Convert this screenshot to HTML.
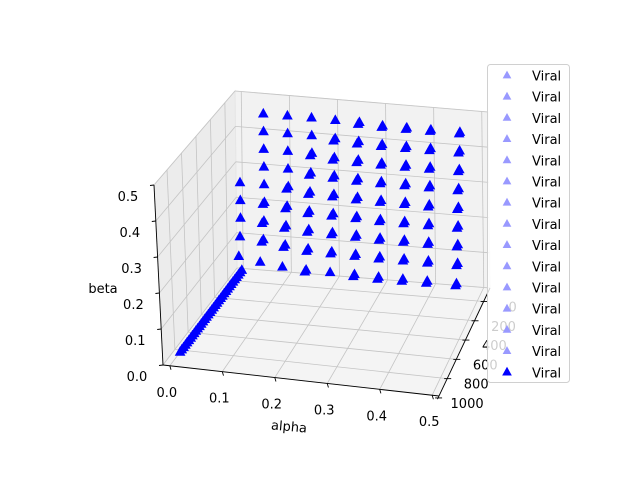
<!DOCTYPE html>
<html><head><meta charset="utf-8"><style>
html,body{margin:0;padding:0;background:#fff}
svg{display:block;font-family:"DejaVu Sans","Liberation Sans",sans-serif}
</style></head><body>
<svg id="chart" width="640" height="480" viewBox="0 0 640 480" xmlns="http://www.w3.org/2000/svg">
<g id="panes"></g>
<g id="grid"></g>
<g id="axes"></g>
<g id="marks"></g>
<g id="legend"></g>
</svg>
<script>
// ---- data ----
const alphaTicks = [0, 0.1, 0.2, 0.3, 0.4, 0.5];
const betaTicks = [0, 0.1, 0.2, 0.3, 0.4, 0.5];
const depthTicks = [0, 200, 400, 600, 800, 1000];
const alphaTickLabels = ["0.0","0.1","0.2","0.3","0.4","0.5"];
const betaTickLabels = ["0.0","0.1","0.2","0.3","0.4","0.5"];
const depthTickLabels = ["0","200","400","600","800","1000"];
const gridAlpha = [0, 0.05, 0.1, 0.15, 0.2, 0.25, 0.3, 0.35, 0.4, 0.46];
const gridBeta = [0.45, 0.4, 0.35, 0.3, 0.25, 0.2, 0.15, 0.1, 0.05];
const gridDepth = [
  [-1, 10, 10, 10, 15, 15, 30, 30, 30, 30],
  [-1, 10, 10, 10, 20, 30, 40, 40, 40, 40],
  [-1, 10, 10, 10, 35, 40, 50, 50, 50, 50],
  [-1, 10, 10, 30, 40, 50, 60, 60, 60, 65],
  [10, 10, 10, 45, 50, 60, 70, 70, 75, 75],
  [10, 10, 30, 60, 65, 75, 85, 85, 85, 85],
  [10, 20, 50, 70, 80, 85, 95, 95, 95, 95],
  [20, 30, 65, 85, 95, 100, 105, 105, 105, 105],
  [40, 80, 110, 120, 125, 125, 130, 130, 130, 130]
];
const gridDepth2 = [
  [-1, -1, -1, -1, -1, 35, 45, 45, 45, 45],
  [-1, -1, -1, -1, 45, 55, 60, 60, 60, 60],
  [-1, -1, -1, 35, 60, 65, 70, 70, 70, 70],
  [-1, -1, -1, 55, 65, 75, 80, 80, 80, 85],
  [-1, -1, 35, 70, 75, 85, 90, 90, 95, 95],
  [-1, 30, 55, 85, 90, 95, 105, 105, 105, 105],
  [-1, 45, 75, 95, 100, 105, 115, 115, 115, 115],
  [-1, 55, 90, 110, 115, 120, 125, 125, 125, 125],
  [-1, -1, -1, 140, -1, 145, 150, 150, 150, 150]
];
const lineDepth = [0,25,50,75,100,125,150,175,200,225,250,275,300,325,350,375,400,425,450,475,500,525,550,575,600,625,650,675,700,725,750,775,800,825,850,875];
const legendLabels = ["Viral","Viral","Viral","Viral","Viral","Viral","Viral","Viral","Viral","Viral","Viral","Viral","Viral","Viral","Viral"];

// ---- projection ----
const C = {
  b00:[237,268], b10:[490,288], b01:[163,365], b11:[439,396],
  t00:[235,91],  t10:[488,112], t01:[154,185], t11:[432,213]
};
function bil(p00,p10,p01,p11,u,v){
  return [
    (1-u)*(1-v)*p00[0]+u*(1-v)*p10[0]+(1-u)*v*p01[0]+u*v*p11[0],
    (1-u)*(1-v)*p00[1]+u*(1-v)*p10[1]+(1-u)*v*p01[1]+u*v*p11[1]];
}
function proj(u,v,w){
  const b=bil(C.b00,C.b10,C.b01,C.b11,u,v), t=bil(C.t00,C.t10,C.t01,C.t11,u,v);
  return [b[0]+(t[0]-b[0])*w, b[1]+(t[1]-b[1])*w];
}
const ax = a => (a+0.013)/0.526;
const bw = b => b/0.5;
const dv = d => (d+20)/1040;
const dvTick = d => (d+140)/1120;
const P = (a,d,b) => proj(ax(a), dv(d), bw(b));

const NS="http://www.w3.org/2000/svg";
function mk(tag, attrs, parent){
  const e=document.createElementNS(NS,tag);
  for(const k in attrs) e.setAttribute(k,attrs[k]);
  parent.appendChild(e); return e;
}
const panes=document.getElementById('panes'), grid=document.getElementById('grid'),
      axes=document.getElementById('axes'), marks=document.getElementById('marks'),
      legend=document.getElementById('legend');
const pts = arr => arr.map(p=>p[0].toFixed(1)+','+p[1].toFixed(1)).join(' ');

let pe;
pe=mk('polygon',{points:pts([proj(0,0,0),proj(1,0,0),proj(1,0,1),proj(0,0,1)]),fill:'#f2f2f2',stroke:'#e6e6e6'},panes);
 
pe=mk('polygon',{points:pts([proj(0,0,0),proj(0,1,0),proj(0,1,1),proj(0,0,1)]),fill:'#ececec',stroke:'#e6e6e6'},panes);
 
pe=mk('polygon',{points:pts([proj(0,0,0),proj(1,0,0),proj(1,1,0),proj(0,1,0)]),fill:'#f4f4f4',stroke:'#e6e6e6'},panes);
 

function gl(p,q){
  const l=mk('line',{x1:p[0],y1:p[1],x2:q[0],y2:q[1],stroke:'#c4c4c4','stroke-width':0.8},grid);
   
}
alphaTicks.forEach(a=>{ gl(proj(ax(a),0,0),proj(ax(a),1,0)); gl(proj(ax(a),0,0),proj(ax(a),0,1)); });
betaTicks.forEach(b=>{ gl(proj(0,0,bw(b)),proj(1,0,bw(b))); gl(proj(0,0,bw(b)),proj(0,1,bw(b))); });
depthTicks.forEach(d=>{ const v=dvTick(d); if(v<=1){ gl(proj(0,v,0),proj(1,v,0)); gl(proj(0,v,0),proj(0,v,1)); } });

function axl(p,q,name){
  const l=mk('line',{x1:p[0],y1:p[1],x2:q[0],y2:q[1],stroke:'#000','stroke-width':0.9},axes);
   
}
axl(proj(0,1,0),proj(1,1,0),'alpha-axis-line');
axl(proj(1,0,0),proj(1,1.03,0),'depth-axis-line');
axl(proj(0,1,0),proj(0,1,1),'beta-axis-line');
function txt(x,y,s,anchor,name,size,parent){
  const t=mk('text',{x:x,y:y,'text-anchor':anchor||'middle','font-size':size||13,fill:'#000'},parent||axes);
  t.textContent=s;
   
  return t;
}
alphaTicks.forEach((a,i)=>{
  const p=proj(ax(a),1,0);
  axl(p,[p[0]+1.2,p[1]+4],'alpha-tick');
  txt(p[0]-3,p[1]+31,alphaTickLabels[i],'middle','alpha-tick-label');
});
betaTicks.forEach((b,i)=>{
  const p=proj(0,1,bw(b));
  axl(p,[p[0]-4,p[1]+0.5],'beta-tick');
  txt(p[0]-26,p[1]+16,betaTickLabels[i],'middle','beta-tick-label');
});
depthTicks.forEach((d,i)=>{
  const p=proj(1,dvTick(d),0);
  axl([p[0]-3,p[1]],[p[0]+4,p[1]],'depth-tick');
  txt(p[0]+29,p[1]+10,depthTickLabels[i],'middle','depth-tick-label');
});
txt(289,431,'alpha','middle','x-axis-title',13).setAttribute('transform','rotate(5 289 427)');
txt(103,293,'beta','middle','z-axis-title',13);

function tri(x,y,s,fill,parent,name){
  const h=s*0.9;
  const t=mk('polygon',{points:pts([[x,y-h*0.62],[x+s/2,y+h*0.38],[x-s/2,y+h*0.38]]),fill:fill,stroke:fill,'stroke-width':1},parent);
   
  return t;
}
const all=[];
lineDepth.forEach(d=>all.push([0,d,0]));
gridBeta.forEach((b,r)=>gridAlpha.forEach((a,c)=>{
  if(gridDepth[r][c]>=0) all.push([a,gridDepth[r][c],b]);
  if(gridDepth2[r][c]>=0) all.push([a,gridDepth2[r][c],b]);
}));
all.sort((p,q)=>p[1]-q[1]);
all.forEach(p=>{ const s=P(p[0],p[1],p[2]); tri(s[0],s[1],9,'#0000ff',marks,'data-point'); });

const lg=mk('rect',{x:487.5,y:64.5,width:82,height:318,rx:3,fill:'rgba(255,255,255,0.8)',stroke:'#d0d0d0'},legend);
 
legendLabels.forEach((s,i)=>{
  const y=75.5+21.2*i;
  const last=i===legendLabels.length-1;
  tri(507,y,last?8:7,last?'#0000ff':'#9999ff',legend,'legend-marker');
  txt(532,y+5,s,'start','legend-entry',13,legend);
});
</script>
</body></html>
